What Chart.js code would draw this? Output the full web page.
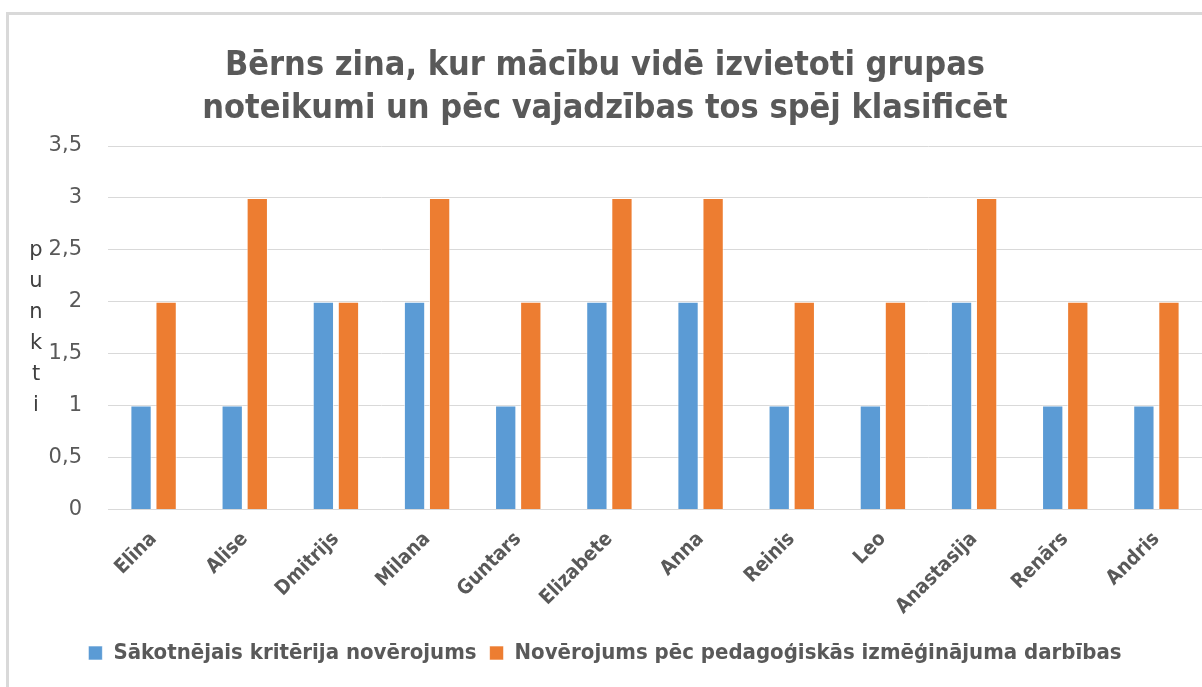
<!DOCTYPE html>
<html lang="lv">
<head>
    <meta charset="UTF-8">
    <title>Bērns zina, kur mācību vidē izvietoti grupas noteikumi</title>
    <script src="https://cdn.jsdelivr.net/npm/chart.js"></script>
    <style>
        * {
            box-sizing: border-box;
            margin: 0;
            padding: 0;
        }
        body {
            width: 1202px;
            height: 687px;
            overflow: hidden;
            background: #fff;
            position: relative;
        }
        .frame {
            position: absolute;
            left: 6px;
            top: 12px;
            width: 1300px;
            height: 800px;
            border-left: 3px solid #d9d9d9;
            border-top: 3px solid #d9d9d9;
            pointer-events: none;
        }
        .chart-box {
            position: absolute;
            left: 0;
            top: 0;
            width: 1202px;
            height: 687px;
        }
    </style>
</head>
<body>
    <div class="chart-box"><canvas id="chart"></canvas></div>
    <div class="frame"></div>

    <script>
        // Dati no attēla
        const categories = ['Elīna', 'Alise', 'Dmitrijs', 'Milana', 'Guntars', 'Elizabete', 'Anna', 'Reinis', 'Leo', 'Anastasija', 'Renārs', 'Andris'];
        const initialScores = [1, 1, 2, 2, 1, 2, 2, 1, 1, 2, 1, 1];
        const afterScores = [2, 3, 2, 3, 2, 3, 3, 2, 2, 3, 2, 2];
        const seriesNames = ['Sākotnējais kritērija novērojums', 'Novērojums pēc pedagoģiskās izmēģinājuma darbības'];
        const titleLines = ['Bērns zina, kur mācību vidē izvietoti grupas', 'noteikumi un pēc vajadzības tos spēj klasificēt'];
        const axisTitle = 'punkti';
        const yMax = 3.5;
        const yStep = 0.5;

        const fontFamily = "'Liberation Sans Narrow', 'DejaVu Sans Condensed', sans-serif";
        const wideFont = "'DejaVu Sans', sans-serif";
        const grey = '#595959';

        // vertikāli sakrauti burti "punkti"
        const stackedTitle = {
            id: 'stackedTitle',
            afterDraw(chart) {
                const ctx = chart.ctx;
                const area = chart.chartArea;
                const letters = axisTitle.split('');
                const step = 31;
                const mid = (area.top + area.bottom) / 2;
                const start = mid - step * (letters.length - 1) / 2;
                ctx.save();
                ctx.fillStyle = '#404040';
                ctx.font = '21px ' + wideFont;
                ctx.textAlign = 'center';
                ctx.textBaseline = 'middle';
                letters.forEach((ch, i) => ctx.fillText(ch, 36, start + i * step));
                ctx.restore();
            }
        };

        new Chart(document.getElementById('chart'), {
            type: 'bar',
            data: {
                labels: categories,
                datasets: [{
                    label: seriesNames[0],
                    data: initialScores,
                    backgroundColor: '#5b9bd5',
                    borderColor: 'rgba(255,255,255,0.6)',
                    borderWidth: 1,
                    barPercentage: 0.85,
                    categoryPercentage: 0.55
                }, {
                    label: seriesNames[1],
                    data: afterScores,
                    backgroundColor: '#ed7d31',
                    borderColor: 'rgba(255,255,255,0.6)',
                    borderWidth: 1,
                    barPercentage: 0.85,
                    categoryPercentage: 0.55
                }]
            },
            options: {
                responsive: true,
                maintainAspectRatio: false,
                animation: false,
                layout: { padding: { left: 8, right: 0, top: 0, bottom: 13 } },
                plugins: {
                    title: {
                        display: true,
                        text: titleLines,
                        color: grey,
                        font: { family: fontFamily, size: 34, weight: 'bold', lineHeight: 1.25 },
                        padding: { top: 45, bottom: 16 }
                    },
                    legend: {
                        position: 'bottom',
                        labels: {
                            color: grey,
                            font: { family: fontFamily, size: 22, weight: 'bold' },
                            boxWidth: 14,
                            boxHeight: 14,
                            padding: 13
                        }
                    },
                    tooltip: { enabled: false }
                },
                scales: {
                    x: {
                        grid: { display: false },
                        border: { color: '#d9d9d9', width: 1 },
                        ticks: {
                            color: grey,
                            font: { family: fontFamily, size: 20, weight: 'bold' },
                            maxRotation: 45,
                            minRotation: 45,
                            padding: 10
                        }
                    },
                    y: {
                        min: 0,
                        max: yMax,
                        afterFit(scale) { scale.width = 100; },
                        grid: { color: '#d9d9d9', drawTicks: false },
                        border: { display: false },
                        ticks: {
                            stepSize: yStep,
                            color: grey,
                            padding: 26,
                            font: { family: wideFont, size: 21 },
                            callback: v => String(v).replace('.', ',')
                        }
                    }
                }
            },
            plugins: [stackedTitle]
        });
    </script>
</body>
</html>
